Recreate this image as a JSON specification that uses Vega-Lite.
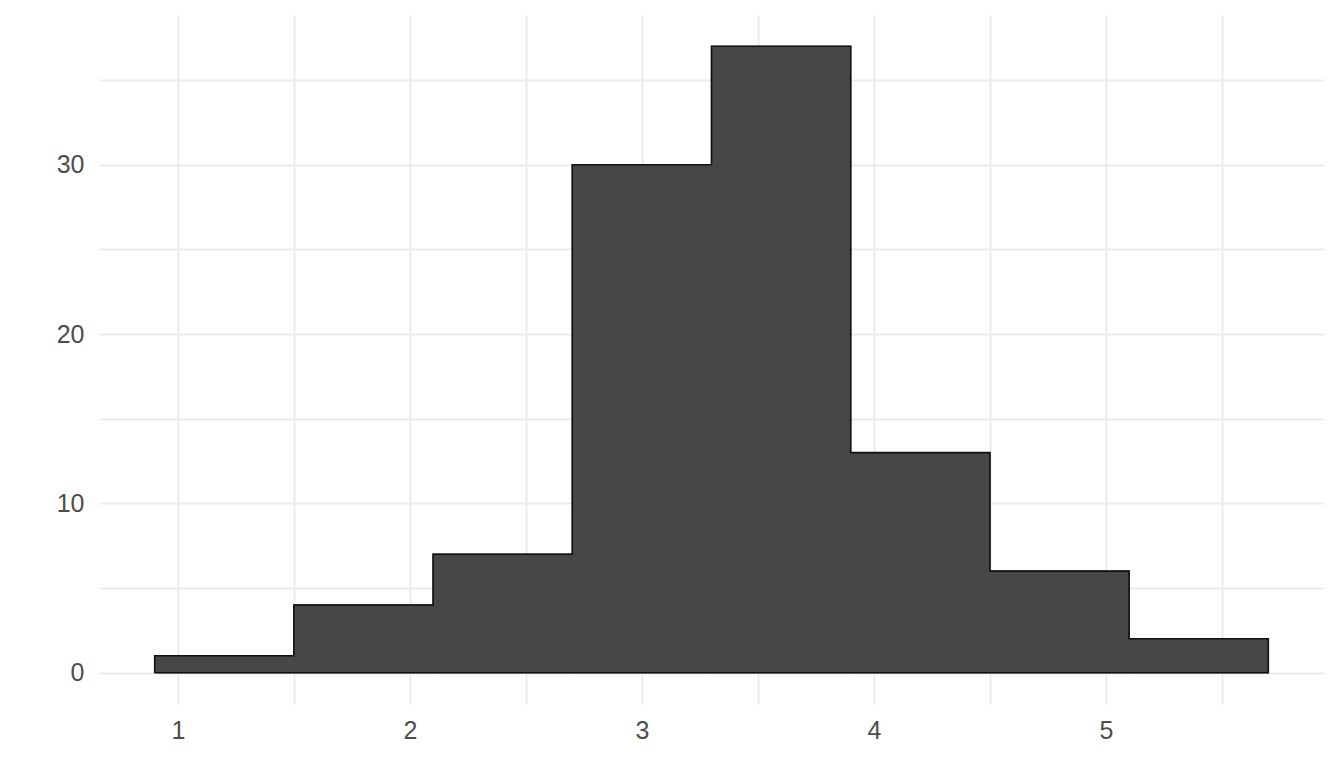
{
  "$schema": "https://vega.github.io/schema/vega-lite/v6.json",
  "width": 1225,
  "height": 689,
  "autosize": {"type": "none"},
  "padding": {"left": 99, "top": 15, "right": 20, "bottom": 80},
  "background": "white",
  "datasets": {
    "bins": [
      {"start": 0.9, "end": 1.5, "count": 1},
      {"start": 1.5, "end": 2.1, "count": 4},
      {"start": 2.1, "end": 2.7, "count": 7},
      {"start": 2.7, "end": 3.3, "count": 30},
      {"start": 3.3, "end": 3.9, "count": 37},
      {"start": 3.9, "end": 4.5, "count": 13},
      {"start": 4.5, "end": 5.1, "count": 6},
      {"start": 5.1, "end": 5.7, "count": 2}
    ],
    "outline": [
      {"i": 0, "x": 0.9, "y": 0},
      {"i": 1, "x": 0.9, "y": 1},
      {"i": 2, "x": 1.5, "y": 4},
      {"i": 3, "x": 2.1, "y": 7},
      {"i": 4, "x": 2.7, "y": 30},
      {"i": 5, "x": 3.3, "y": 37},
      {"i": 6, "x": 3.9, "y": 13},
      {"i": 7, "x": 4.5, "y": 6},
      {"i": 8, "x": 5.1, "y": 2},
      {"i": 9, "x": 5.7, "y": 2},
      {"i": 10, "x": 5.7, "y": 0},
      {"i": 11, "x": 0.9, "y": 0}
    ]
  },
  "layer": [
    {
      "data": {"name": "bins"},
      "mark": {"type": "bar", "fill": "#474747", "stroke": "#474747", "strokeWidth": 1.2},
      "encoding": {
        "x": {
          "field": "start",
          "type": "quantitative",
          "title": null,
          "scale": {"domain": [0.66, 5.94], "nice": false, "zero": false},
          "axis": {
            "values": [1, 1.5, 2, 2.5, 3, 3.5, 4, 4.5, 5, 5.5],
            "labelExpr": "datum.value % 1 === 0 ? format(datum.value, 'd') : ''"
          }
        },
        "x2": {"field": "end"},
        "y": {
          "field": "count",
          "type": "quantitative",
          "title": null,
          "scale": {"domain": [-1.85, 38.85], "nice": false, "zero": false},
          "axis": {
            "values": [0, 5, 10, 15, 20, 25, 30, 35],
            "labelExpr": "datum.value % 10 === 0 ? datum.label : ''"
          }
        },
        "y2": {"datum": 0}
      }
    },
    {
      "data": {"name": "outline"},
      "mark": {"type": "line", "interpolate": "step-after", "color": "#111111", "strokeWidth": 1.6},
      "encoding": {
        "x": {"field": "x", "type": "quantitative"},
        "y": {"field": "y", "type": "quantitative"},
        "order": {"field": "i"}
      }
    }
  ],
  "config": {
    "view": {"stroke": null},
    "axis": {
      "domain": false,
      "ticks": false,
      "grid": true,
      "gridColor": "#EBEBEB",
      "gridWidth": 2,
      "labelFont": "Liberation Sans",
      "labelFontSize": 25,
      "labelColor": "#4D4D4D",
      "labelPadding": 15
    },
    "axisX": {"labelPadding": 14}
  }
}
